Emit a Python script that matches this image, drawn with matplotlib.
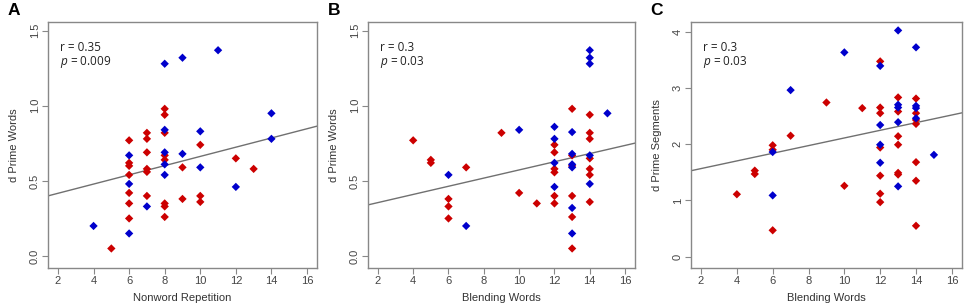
import matplotlib.pyplot as plt
import numpy as np

plt.rcParams['font.family'] = ['Liberation Sans', 'DejaVu Sans']
plt.rcParams['mathtext.fontset'] = 'custom'
plt.rcParams['mathtext.rm'] = 'Open Sans'
plt.rcParams['mathtext.it'] = 'Open Sans:italic'

RED = '#cc0000'
BLUE = '#0000cc'

# panel A: nonword repetition vs d prime words
a_blue_x = [4, 6, 6, 6, 7, 8, 8, 8, 8, 8, 9, 9, 10, 10, 11, 12, 14, 14]
a_blue_y = [0.20, 0.15, 0.48, 0.67, 0.33, 1.28, 0.84, 0.69, 0.61, 0.54, 1.32, 0.68, 0.83, 0.59, 1.37, 0.46, 0.95, 0.78]
a_red_x = [5, 6, 6, 6, 6, 6, 6, 6, 7, 7, 7, 7, 7, 7, 8, 8, 8, 8, 8, 8, 8, 8,
           9, 9, 10, 10, 10, 12, 13]
a_red_y = [0.05, 0.77, 0.62, 0.60, 0.54, 0.42, 0.35, 0.25, 0.82, 0.78, 0.69, 0.58, 0.56, 0.40,
           0.98, 0.94, 0.82, 0.67, 0.64, 0.35, 0.33, 0.26, 0.59, 0.38, 0.74, 0.40, 0.36, 0.65, 0.58]

# panel B: blending words vs d prime words
b_blue_x = [6, 7, 10, 12, 12, 12, 12, 13, 13, 13, 13, 13, 13, 14, 14, 14, 14, 14, 15]
b_blue_y = [0.54, 0.20, 0.84, 0.86, 0.78, 0.62, 0.46, 0.825, 0.68, 0.61, 0.59, 0.32, 0.15,
            1.37, 1.32, 1.28, 0.67, 0.48, 0.95]
b_red_x = [4, 5, 5, 6, 6, 6, 7, 9, 10, 11, 12, 12, 12, 12, 12, 12,
           13, 13, 13, 13, 13, 13, 14, 14, 14, 14, 14, 14, 14]
b_red_y = [0.77, 0.64, 0.62, 0.38, 0.33, 0.25, 0.59, 0.82, 0.42, 0.35, 0.74, 0.69, 0.58, 0.557, 0.40, 0.35,
           0.98, 0.67, 0.60, 0.40, 0.26, 0.05, 0.94, 0.82, 0.78, 0.65, 0.58, 0.54, 0.36]

# panel C: blending words vs d prime segments
c_blue_x = [6, 6, 7, 10, 12, 12, 12, 12, 13, 13, 13, 13, 13, 14, 14, 14, 14, 15]
c_blue_y = [1.86, 1.09, 2.96, 3.63, 3.39, 2.34, 1.99, 1.67, 4.02, 2.70, 2.65, 2.39, 1.25,
            3.72, 2.68, 2.64, 2.46, 1.81]
c_red_x = [4, 5, 5, 6, 6, 6, 7, 9, 10, 11, 12, 12, 12, 12, 12, 12, 12,
           13, 13, 13, 13, 13, 13, 14, 14, 14, 14, 14, 14, 14]
c_red_y = [1.11, 1.53, 1.47, 1.98, 1.90, 0.47, 2.15, 2.74, 1.26, 2.64, 3.47, 2.65, 2.55, 1.94, 1.44, 1.12, 0.97,
           2.83, 2.58, 2.14, 1.99, 1.49, 1.46, 2.81, 2.55, 2.43, 2.36, 1.68, 1.35, 0.55]

# regression lines (intercept, slope)
a_fit = (0.356, 0.0307)
b_fit = (0.301, 0.0272)
c_fit = (1.43, 0.068)

xticks = [2, 4, 6, 8, 10, 12, 14, 16]

panels = [
    ('A', [0.0498, 0.1213, 0.279, 0.8066], a_blue_x, a_blue_y, a_red_x, a_red_y, a_fit,
     'Nonword Repetition', 'd Prime Words', [0, 0.5, 1.0, 1.5], ['0.0', '0.5', '1.0', '1.5'],
     (-0.08, 1.558), 'r = 0.35', '$p$ = 0.009'),
    ('B', [0.3817, 0.1213, 0.277, 0.8066], b_blue_x, b_blue_y, b_red_x, b_red_y, b_fit,
     'Blending Words', 'd Prime Words', [0, 0.5, 1.0, 1.5], ['0.0', '0.5', '1.0', '1.5'],
     (-0.08, 1.558), 'r = 0.3', '$p$ = 0.03'),
    ('C', [0.7168, 0.1213, 0.281, 0.8066], c_blue_x, c_blue_y, c_red_x, c_red_y, c_fit,
     'Blending Words', 'd Prime Segments', [0, 1, 2, 3, 4], ['0', '1', '2', '3', '4'],
     (-0.2, 4.17), 'r = 0.3', '$p$ = 0.03'),
]

fig = plt.figure(figsize=(9.64, 3.05), dpi=100)

for (letter, rect, bx, by, rx, ry, fit, xlab, ylab, yt, ytl, ylim, rtxt, ptxt) in panels:
    ax = fig.add_axes(rect)
    xlim = (1.44, 16.56)
    xs = np.array(xlim)
    ax.plot(xs, fit[0] + fit[1] * xs, color='#707070', lw=1.0, zorder=1)
    ax.scatter(rx, ry, marker='D', s=18, color=RED, edgecolors='none', zorder=2)
    ax.scatter(bx, by, marker='D', s=18, color=BLUE, edgecolors='none', zorder=3)
    ax.set_xlim(xlim)
    ax.set_ylim(ylim)
    ax.set_xticks(xticks)
    ax.set_yticks(yt)
    ax.set_yticklabels(ytl, rotation=90, va='center')
    for s in ax.spines.values():
        s.set_color('#888888')
        s.set_linewidth(1.0)
    ax.tick_params(colors='#888888', labelcolor='#444444', labelsize=8, length=4, width=0.8, pad=2)
    ax.set_xlabel(xlab, fontsize=8, color='#333333', labelpad=5)
    ax.set_ylabel(ylab, fontsize=8, color='#333333', labelpad=8)
    ax.text(0.045, 0.898, rtxt, transform=ax.transAxes, fontsize=8.5, va='center',
            family='Open Sans', color='#222222')
    ax.text(0.045, 0.837, ptxt, transform=ax.transAxes, fontsize=8.5, va='center',
            family='Open Sans', color='#222222')
    fig.text(rect[0] - 0.042, 0.967, letter, fontsize=12.5, fontweight='bold', va='center')

fig.savefig('out.png', dpi=100)
